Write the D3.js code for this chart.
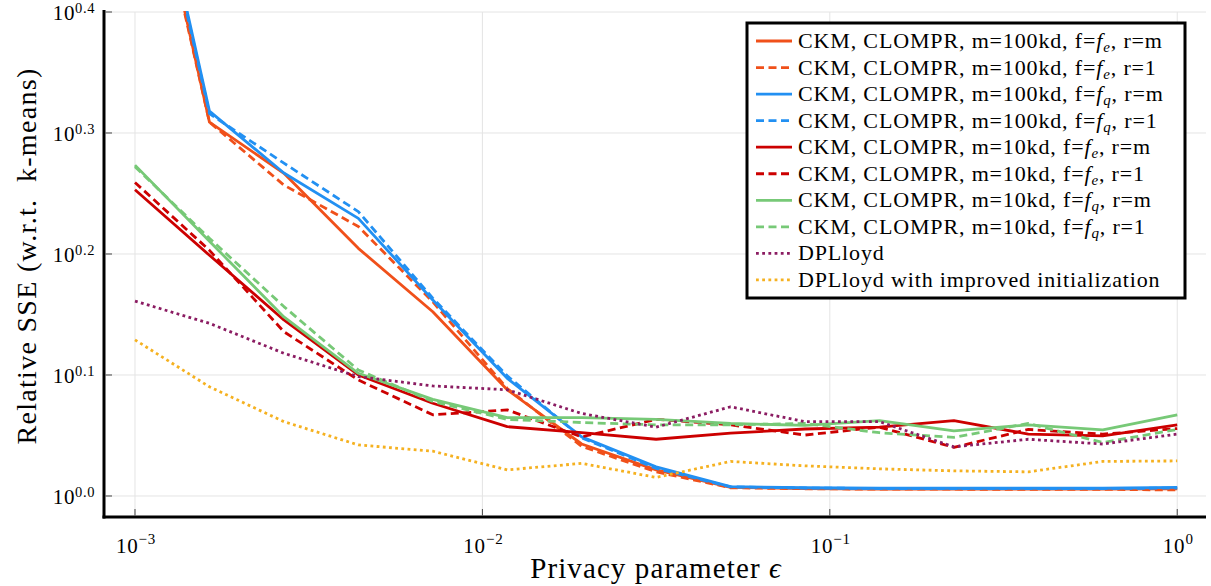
<!DOCTYPE html>
<html>
<head>
<meta charset="utf-8">
<script src="https://cdn.jsdelivr.net/npm/d3@7"></script>
<style>
  html, body { margin: 0; padding: 0; background: #fff; }
  svg { display: block; }
</style>
</head>
<body>
<svg id="chart" width="1211" height="586" font-family="'Liberation Serif', 'Times New Roman', Times, 'DejaVu Serif', serif"></svg>
<script>
// ---------- data ----------
const epsilon = [0.001, 0.001638, 0.002683, 0.004394, 0.007197, 0.011788, 0.019307, 0.031623,
                 0.051795, 0.084834, 0.138950, 0.227585, 0.372759, 0.610540, 1.0];

const ckm100_fe_m = [3.846, 2.037, 1.848, 1.602, 1.420, 1.224, 1.104, 1.051, 1.0167, 1.0144, 1.0134, 1.0134, 1.0134, 1.0134, 1.0138];
const ckm100_fe_1 = [3.802, 2.037, 1.807, 1.670, 1.447, 1.227, 1.099, 1.047, 1.0158, 1.0139, 1.0130, 1.0130, 1.0127, 1.0127, 1.0116];
const ckm100_fq_m = [3.926, 2.080, 1.849, 1.696, 1.452, 1.251, 1.119, 1.057, 1.0179, 1.0158, 1.0148, 1.0148, 1.0148, 1.0148, 1.0167];
const ckm100_fq_1 = [3.890, 2.070, 1.884, 1.718, 1.457, 1.257, 1.117, 1.054, 1.0174, 1.0153, 1.0144, 1.0144, 1.0144, 1.0144, 1.0151];
const ckm10_fe_m  = [1.791, 1.581, 1.398, 1.259, 1.193, 1.141, 1.128, 1.114, 1.127, 1.136, 1.140, 1.154, 1.125, 1.121, 1.145];
const ckm10_fe_1  = [1.816, 1.596, 1.367, 1.247, 1.167, 1.178, 1.119, 1.157, 1.145, 1.123, 1.140, 1.097, 1.135, 1.125, 1.137];
const ckm10_fq_m  = [1.877, 1.624, 1.406, 1.263, 1.202, 1.161, 1.161, 1.157, 1.148, 1.144, 1.154, 1.132, 1.145, 1.134, 1.167];
const ckm10_fq_1  = [1.871, 1.633, 1.434, 1.271, 1.197, 1.157, 1.150, 1.145, 1.145, 1.148, 1.128, 1.118, 1.148, 1.107, 1.135];
const dplloyd     = [1.449, 1.389, 1.312, 1.255, 1.233, 1.224, 1.170, 1.140, 1.185, 1.152, 1.152, 1.098, 1.114, 1.104, 1.125];
const dplloyd_imp = [1.346, 1.231, 1.152, 1.102, 1.089, 1.051, 1.064, 1.036, 1.068, 1.059, 1.053, 1.049, 1.047, 1.068, 1.069];

const seriesLabels = [
  "CKM, CLOMPR, m=100kd, f=$e, r=m",
  "CKM, CLOMPR, m=100kd, f=$e, r=1",
  "CKM, CLOMPR, m=100kd, f=$q, r=m",
  "CKM, CLOMPR, m=100kd, f=$q, r=1",
  "CKM, CLOMPR, m=10kd, f=$e, r=m",
  "CKM, CLOMPR, m=10kd, f=$e, r=1",
  "CKM, CLOMPR, m=10kd, f=$q, r=m",
  "CKM, CLOMPR, m=10kd, f=$q, r=1",
  "DPLloyd",
  "DPLloyd with improved initialization"
];
const seriesValues = [ckm100_fe_m, ckm100_fe_1, ckm100_fq_m, ckm100_fq_1,
                      ckm10_fe_m, ckm10_fe_1, ckm10_fq_m, ckm10_fq_1, dplloyd, dplloyd_imp];
const seriesColors = ["#f0501a", "#f0501a", "#2290f2", "#2290f2", "#cc0000", "#cc0000",
                      "#77c977", "#77c977", "#8b1c62", "#f5b120"];
const seriesStyles = ["solid", "dash", "solid", "dash", "solid", "dash", "solid", "dash", "dot", "dot"];

const xTickExps = [-3, -2, -1, 0];
const xTickLabels = ["-3", "-2", "-1", "0"];
const yTickExps = [0.0, 0.1, 0.2, 0.3, 0.4];
const yTickLabels = ["0.0", "0.1", "0.2", "0.3", "0.4"];

// ---------- layout ----------
const svg = d3.select("#chart");
const L = 104, R = 1206, T = 12, B = 517;

const x = d3.scaleLog().domain([Math.pow(10, -3.0892), Math.pow(10, 0.0828)]).range([L, R]);
const y = d3.scaleLog().domain([Math.pow(10, -0.01736), Math.pow(10, 0.4)]).range([B, T]);

const dashMap = { solid: null, dash: "8,4.5", dot: "2.8,3.4" };

// grid
const grid = svg.append("g");
grid.selectAll("line.gx").data(xTickExps).enter().append("line")
  .attr("x1", d => x(Math.pow(10, d))).attr("x2", d => x(Math.pow(10, d)))
  .attr("y1", T).attr("y2", B).attr("stroke", "#e4e4e4").attr("stroke-width", 1);
grid.selectAll("line.gy").data(yTickExps).enter().append("line")
  .attr("x1", L).attr("x2", R)
  .attr("y1", d => y(Math.pow(10, d))).attr("y2", d => y(Math.pow(10, d)))
  .attr("stroke", "#e4e4e4").attr("stroke-width", 1);

// clip
svg.append("clipPath").attr("id", "clip").append("rect")
  .attr("x", L).attr("y", T - 1).attr("width", R - L).attr("height", B - T + 1);

const line = d3.line().x((d, i) => x(epsilon[i])).y(d => y(d));
const plot = svg.append("g").attr("clip-path", "url(#clip)");
seriesValues.forEach((vals, k) => {
  plot.append("path").datum(vals)
    .attr("d", line)
    .attr("fill", "none")
    .attr("stroke", seriesColors[k])
    .attr("stroke-width", 2.8)
    .attr("stroke-linejoin", "round")
    .attr("stroke-dasharray", dashMap[seriesStyles[k]]);
});

// axes spines
svg.append("line").attr("x1", L).attr("x2", L).attr("y1", T - 2).attr("y2", B + 1.5)
  .attr("stroke", "#000").attr("stroke-width", 3);
svg.append("line").attr("x1", L - 1.5).attr("x2", R).attr("y1", B).attr("y2", B)
  .attr("stroke", "#000").attr("stroke-width", 3);

// ticks (inside)
svg.selectAll("line.tx").data(xTickExps).enter().append("line")
  .attr("x1", d => x(Math.pow(10, d))).attr("x2", d => x(Math.pow(10, d)))
  .attr("y1", B - 1.5).attr("y2", B - 8).attr("stroke", "#444").attr("stroke-width", 1);
svg.selectAll("line.ty").data(yTickExps).enter().append("line")
  .attr("x1", L + 1.5).attr("x2", L + 8)
  .attr("y1", d => y(Math.pow(10, d))).attr("y2", d => y(Math.pow(10, d)))
  .attr("stroke", "#444").attr("stroke-width", 1);

// tick labels
const xl = svg.selectAll("text.xt").data(xTickExps).enter().append("text")
  .attr("x", d => x(Math.pow(10, d)) + 1).attr("y", 553)
  .attr("text-anchor", "middle").attr("font-size", 21).attr("letter-spacing", 0.8);
xl.append("tspan").text("10");
xl.append("tspan").attr("dy", -9).attr("font-size", 15).text((d, i) => xTickLabels[i].replace("-", "\u2212"));

const yl = svg.selectAll("text.yt").data(yTickExps).enter().append("text")
  .attr("x", 95).attr("y", d => y(Math.pow(10, d)) + 8)
  .attr("text-anchor", "end").attr("font-size", 21).attr("letter-spacing", 0.6);
yl.append("tspan").text("10");
yl.append("tspan").attr("dy", -7).attr("font-size", 14.5).text((d, i) => yTickLabels[i]);

// axis labels
const xlab = svg.append("text").attr("x", 656).attr("y", 578).attr("text-anchor", "middle")
  .attr("font-size", 29).attr("letter-spacing", 1.1);
xlab.append("tspan").text("Privacy parameter ");
xlab.append("tspan").attr("font-style", "italic").text("\u03f5");

svg.append("text")
  .attr("transform", "translate(36,256) rotate(-90)")
  .attr("text-anchor", "middle").attr("font-size", 28).attr("letter-spacing", 1.3)
  .text("Relative SSE (w.r.t.\u00a0 k-means)");

// legend
const lg = svg.append("g");
const LX = 747, LY = 23, LW = 438, LH = 275;
lg.append("rect").attr("x", LX).attr("y", LY).attr("width", LW).attr("height", LH)
  .attr("fill", "#fff").attr("stroke", "#000").attr("stroke-width", 3);
seriesLabels.forEach((lab, k) => {
  const ry = 41 + k * 26.55;
  lg.append("line").attr("x1", 756).attr("x2", 792).attr("y1", ry).attr("y2", ry)
    .attr("stroke", seriesColors[k]).attr("stroke-width", 2.8)
    .attr("stroke-dasharray", dashMap[seriesStyles[k]]);
  const t = lg.append("text").attr("x", 798).attr("y", ry + 7).attr("font-size", 22)
    .attr("letter-spacing", 0.85);
  const m = lab.split("$");
  if (m.length === 1) {
    t.append("tspan").text(lab);
  } else {
    t.append("tspan").text(m[0]);
    t.append("tspan").attr("font-style", "italic").text("f");
    t.append("tspan").attr("font-style", "italic").attr("font-size", 15).attr("dy", 4).text(m[1][0]);
    t.append("tspan").attr("dy", -4).text(m[1].slice(1));
  }
});
</script>
</body>
</html>
